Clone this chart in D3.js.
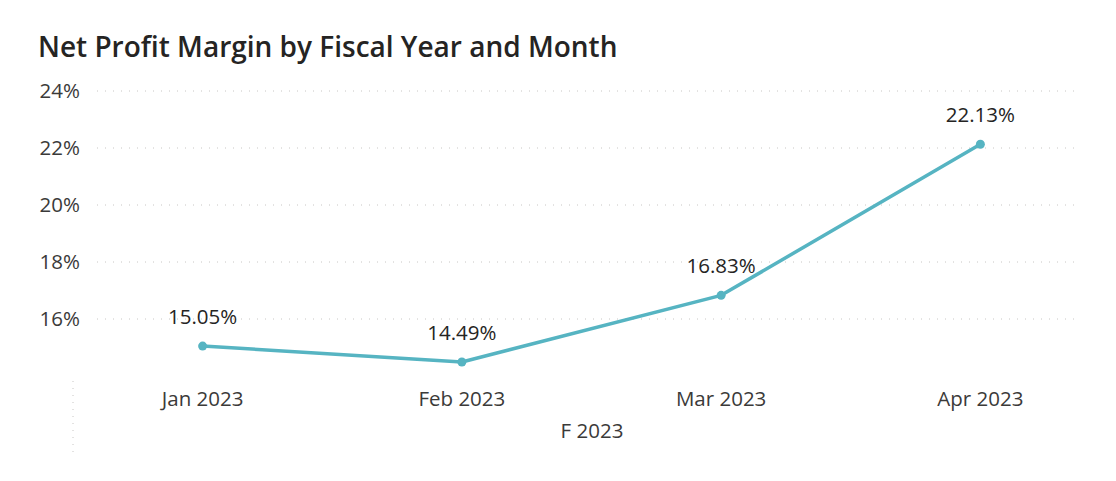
<!DOCTYPE html>
<html>
<head>
<meta charset="utf-8">
<script src="https://cdn.jsdelivr.net/npm/d3@7"></script>
<style>
  body { margin: 0; background: #fff; }
  text { font-family: "Open Sans", "Noto Sans", sans-serif; }
</style>
</head>
<body>
<div id="chart"></div>
<script>
// Net profit margin per month, %
const months = ["Jan 2023", "Feb 2023", "Mar 2023", "Apr 2023"];
const margins = [15.05, 14.49, 16.83, 22.13];
const yTicks = [16, 18, 20, 22, 24];
const groupLabel = "F 2023";

const W = 1116, H = 481;
const fs = "20.5px";

const svg = d3.select("#chart")
    .append("svg")
    .attr("width", W)
    .attr("height", H);

svg.append("text")
    .attr("x", 38)
    .attr("y", 57)
    .attr("font-size", "28px")
    .attr("font-weight", 600)
    .attr("fill", "#252423")
    .text("Net Profit Margin by Fiscal Year and Month");

// Scales
const x = d3.scaleBand()
    .domain(months)
    .range([73, 1110]);

const y = d3.scaleLinear()
    .domain([14, 24])
    .range([376, 91]);

// Grid
svg.append("g")
    .selectAll("line")
    .data(yTicks)
    .join("line")
    .attr("x1", 97)
    .attr("x2", 1080)
    .attr("y1", d => y(d))
    .attr("y2", d => y(d))
    .attr("stroke", "#c8c6c4")
    .attr("stroke-width", 1)
    .attr("stroke-dasharray", "1,7");

// Y axis labels
svg.append("g")
    .selectAll("text")
    .data(yTicks)
    .join("text")
    .attr("x", 80)
    .attr("y", d => y(d))
    .attr("dy", "0.35em")
    .attr("text-anchor", "end")
    .attr("font-size", fs)
    .attr("fill", "#3b3a39")
    .text(d => d + "%");

// X axis labels
svg.append("g")
    .selectAll("text")
    .data(months)
    .join("text")
    .attr("x", d => x(d) + x.bandwidth() / 2)
    .attr("y", 406)
    .attr("text-anchor", "middle")
    .attr("font-size", fs)
    .attr("fill", "#3b3a39")
    .text(d => d);

svg.append("text")
    .attr("x", 592)
    .attr("y", 438)
    .attr("text-anchor", "middle")
    .attr("font-size", fs)
    .attr("fill", "#3b3a39")
    .text(groupLabel);

// Left separator
svg.append("line")
    .attr("x1", x.range()[0])
    .attr("x2", x.range()[0])
    .attr("y1", 381)
    .attr("y2", 452)
    .attr("stroke", "#c8c6c4")
    .attr("stroke-dasharray", "1,6");

const pts = months.map((m, i) => [x(m) + x.bandwidth() / 2, y(margins[i])]);

// Line
svg.append("path")
    .datum(pts)
    .attr("fill", "none")
    .attr("stroke", "#56b4c2")
    .attr("stroke-width", 3.5)
    .attr("stroke-linejoin", "round")
    .attr("d", d3.line());

svg.append("g")
    .selectAll("circle")
    .data(pts)
    .join("circle")
    .attr("cx", d => d[0])
    .attr("cy", d => d[1])
    .attr("r", 4.5)
    .attr("fill", "#56b4c2");

// Data labels
svg.append("g")
    .selectAll("text")
    .data(pts)
    .join("text")
    .attr("x", d => d[0])
    .attr("y", d => d[1] - 22)
    .attr("text-anchor", "middle")
    .attr("font-size", fs)
    .attr("fill", "#252423")
    .text((d, i) => margins[i].toFixed(2) + "%");
</script>
</body>
</html>
